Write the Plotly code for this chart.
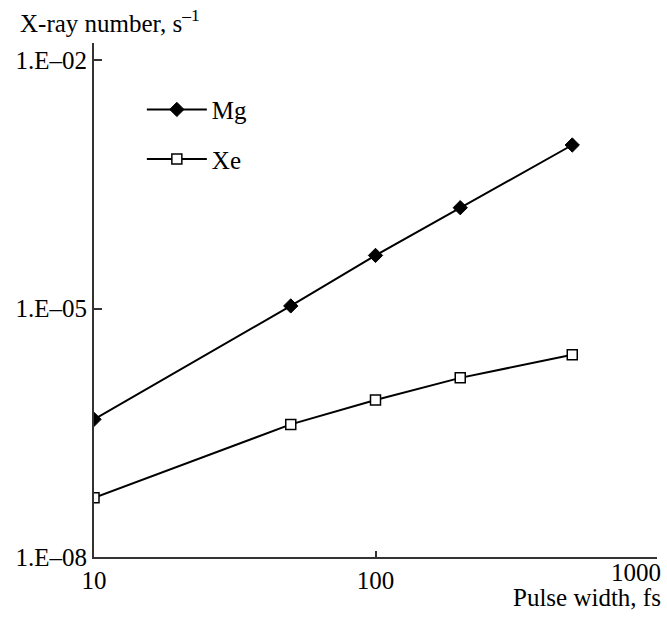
import plotly.graph_objects as go

pulse_width = [10, 50, 100, 200, 500]
mg_values = [4.6e-7, 1.08e-5, 4.4e-5, 1.66e-4, 9.5e-4]
xe_values = [5.2e-8, 4.0e-7, 7.9e-7, 1.46e-6, 2.77e-6]
x_tick_vals = [10, 100, 1000]
x_tick_text = ["10", "100", ""]
y_tick_vals = [1e-8, 1e-5, 1e-2]
y_tick_text = ["1.E–08", "1.E–05", "1.E–02"]

FONT = "Liberation Serif, Times New Roman, serif"
FS = 25

fig = go.Figure()
fig.add_trace(go.Scatter(
    x=pulse_width, y=mg_values, name="Mg", mode="lines+markers",
    legendgroup="mg",
    line=dict(color="black", width=2),
    marker=dict(symbol="diamond", size=11, color="black",
                line=dict(color="black", width=1)),
))
fig.add_trace(go.Scatter(
    x=pulse_width, y=xe_values, name="Xe", mode="lines+markers",
    legendgroup="xe",
    line=dict(color="black", width=2),
    marker=dict(symbol="square", size=10, color="white",
                line=dict(color="black", width=1.5)),
))

fig.update_layout(
    width=667, height=618,
    margin=dict(l=94, r=10, t=43, b=61),
    paper_bgcolor="white", plot_bgcolor="white",
    font=dict(family=FONT, size=FS, color="black"),
    showlegend=True,
    legend=dict(x=0.085, y=0.915, xanchor="left", yanchor="top",
                bgcolor="rgba(0,0,0,0)", tracegroupgap=14,
                font=dict(family=FONT, size=FS, color="black"),
                itemwidth=60),
    xaxis=dict(type="log", range=[1, 3], showgrid=False, zeroline=False,
               showline=True, linecolor="#333", linewidth=2,
               tickvals=x_tick_vals, ticktext=x_tick_text,
               ticks="inside", ticklen=6, tickwidth=1.5, tickcolor="#333",
               tickfont=dict(family=FONT, size=FS)),
    yaxis=dict(type="log", range=[-8, -1.79], showgrid=False, zeroline=False,
               showline=True, linecolor="#333", linewidth=2,
               tickvals=y_tick_vals, ticktext=y_tick_text,
               ticks="inside", ticklen=8, tickwidth=1.5, tickcolor="#333",
               tickfont=dict(family=FONT, size=FS)),
)

fig.add_annotation(text="1000", xref="paper", yref="paper", x=1.01, y=0,
                   xanchor="right", yanchor="top", yshift=0, showarrow=False,
                   font=dict(family=FONT, size=FS))
fig.add_annotation(text="Pulse width, fs", xref="paper", yref="paper",
                   x=1.01, y=0, xanchor="right", yanchor="top", yshift=-25,
                   showarrow=False, font=dict(family=FONT, size=FS))
fig.add_annotation(text="X-ray number, s<sup>–1</sup>", xref="paper",
                   yref="paper", x=-0.135, y=1.0, xanchor="left",
                   yanchor="bottom", yshift=4, showarrow=False,
                   font=dict(family=FONT, size=FS))

fig.write_html("out.html",
               config={"displayModeBar": False},
               post_script="document.body.style.margin='0';")
